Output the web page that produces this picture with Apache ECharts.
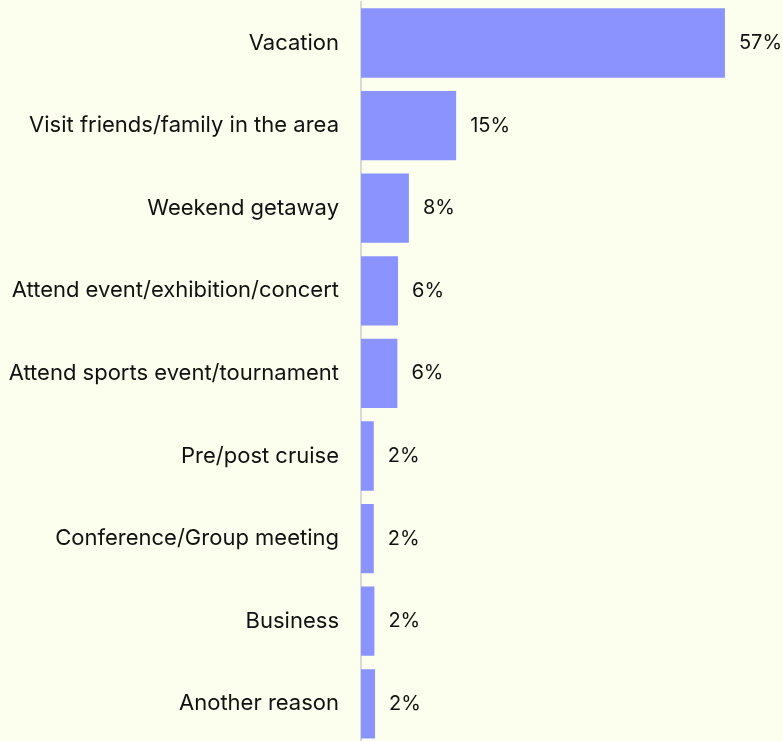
<!DOCTYPE html>
<html><head><meta charset="utf-8">
<script src="https://cdn.jsdelivr.net/npm/echarts@6/dist/echarts.min.js"></script>
<style>html,body{margin:0;padding:0;background:#fcfeee;overflow:hidden;}#c{width:783px;height:748px;}</style>
</head><body><div id="c"></div>
<script>
var categories = ["Vacation","Visit friends/family in the area","Weekend getaway","Attend event/exhibition/concert","Attend sports event/tournament","Pre/post cruise","Conference/Group meeting","Business","Another reason"];
var values = [57, 14.9, 7.5, 5.8, 5.7, 2.0, 2.0, 2.1, 2.2];

var chart = echarts.init(document.getElementById('c'));
chart.setOption({
  backgroundColor: '#fcfeee',
  textStyle: {fontFamily: 'Inter'},
  grid: {left: 361, top: 1.7, width: 415, height: 743.4, containLabel: false},
  xAxis: {type: 'value', min: 0, max: 65, show: false},
  yAxis: {
    type: 'category', data: categories, inverse: true,
    axisLine: {show: true, lineStyle: {color: '#d9d9d9', width: 2}},
    axisTick: {show: false},
    axisLabel: {color: '#111', fontSize: 22, margin: 22, fontFamily: 'Inter', padding: [5, 0, 0, 0]}
  },
  series: [{
    type: 'bar', data: values, barCategoryGap: '16.1%',
    itemStyle: {color: '#8b93ff'},
    label: {show: true, position: 'right', distance: 14, color: '#111', fontSize: 20, fontFamily: 'Inter', padding: [5, 0, 0, 0],
      formatter: function(p){return Math.round(p.value) + '%';}},
    animation: false
  }],
  animation: false
});
</script></body></html>
